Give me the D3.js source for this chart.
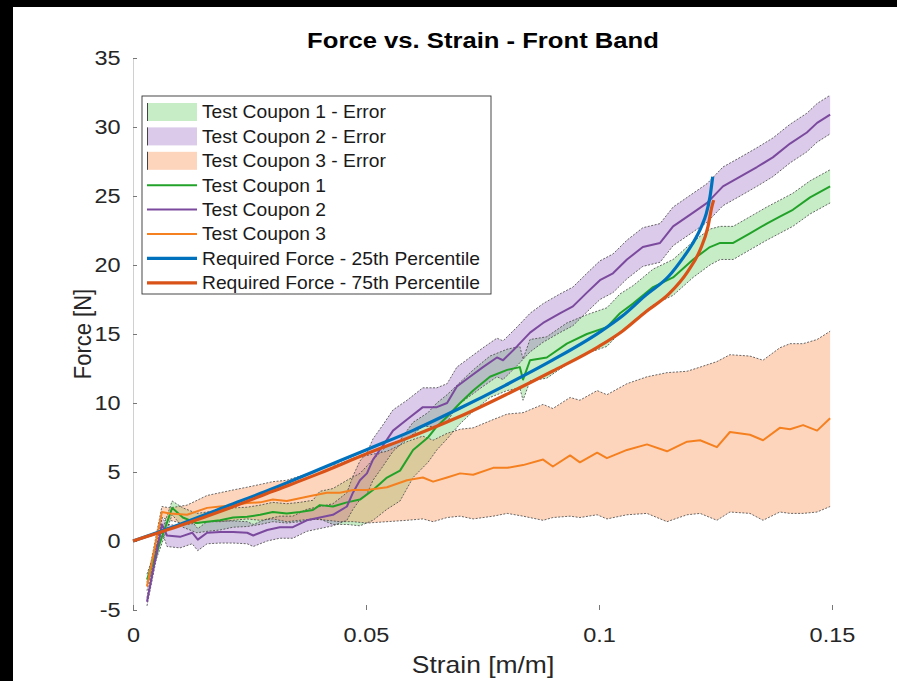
<!DOCTYPE html>
<html>
<head>
<meta charset="utf-8">
<script src="https://cdn.jsdelivr.net/npm/d3@7"></script>
<style>
  body { margin: 0; background: #fff; }
  svg { display: block; font-family: "Liberation Sans", Arial, Helvetica, sans-serif; }
</style>
</head>
<body>
<svg id="chart"></svg>
<script>
const width = 897;
const height = 681;

// test coupon 1 (green)
const strainC1 = [0.003, 0.0084, 0.0107, 0.0137, 0.0159, 0.0187, 0.0215, 0.0245, 0.0273, 0.030, 0.033, 0.0358, 0.0386, 0.0401, 0.0429, 0.0459, 0.0487, 0.0515, 0.0545, 0.0573, 0.0601, 0.0633, 0.0652, 0.0674, 0.0702, 0.073, 0.0766, 0.0803, 0.083, 0.0837, 0.0852, 0.0888, 0.0931, 0.0974, 0.1017, 0.1045, 0.1073, 0.1116, 0.1159, 0.1202, 0.1238, 0.126, 0.1288, 0.1324, 0.136, 0.1388, 0.1416, 0.1453, 0.1496];
const forceC1 = [-2.8, 2.4, 1.7, 1.3, 1.4, 1.5, 1.7, 1.75, 1.9, 2.1, 2.0, 2.1, 2.25, 2.6, 2.5, 2.8, 3.0, 3.7, 4.6, 5.1, 6.6, 7.5, 8.3, 9.0, 10.0, 10.9, 11.9, 12.4, 12.6, 11.7, 13.1, 13.3, 14.3, 15.0, 15.5, 16.5, 17.2, 18.4, 19.1, 20.4, 21.3, 21.6, 21.6, 22.3, 23.0, 23.5, 24.0, 24.9, 25.7];
const errC1 = [0.4, 0.5, 0.7, 0.7, 0.7, 0.7, 0.7, 0.7, 0.7, 0.7, 0.7, 0.7, 0.7, 1.0, 1.3, 1.6, 1.9, 2.2, 2.3, 2.2, 2.0, 1.8, 1.7, 1.6, 1.5, 1.5, 1.5, 1.5, 1.5, 1.5, 1.5, 1.5, 1.5, 1.4, 1.4, 1.4, 1.3, 1.3, 1.3, 1.3, 1.3, 1.2, 1.2, 1.2, 1.2, 1.2, 1.2, 1.2, 1.2];

// test coupon 2 (purple)
const strainC2 = [0.003, 0.0062, 0.0073, 0.0101, 0.0127, 0.0139, 0.0159, 0.0187, 0.0215, 0.0245, 0.0258, 0.0288, 0.0315, 0.0343, 0.0373, 0.0401, 0.0429, 0.0459, 0.0472, 0.0487, 0.0502, 0.0515, 0.0536, 0.0558, 0.0588, 0.0622, 0.0652, 0.0674, 0.0695, 0.0723, 0.0751, 0.0781, 0.0794, 0.0824, 0.0852, 0.088, 0.0916, 0.0944, 0.0974, 0.1002, 0.103, 0.106, 0.1094, 0.1131, 0.1159, 0.1202, 0.1232, 0.1266, 0.1303, 0.1339, 0.1373, 0.141, 0.1446, 0.1468, 0.1496];
const forceC2 = [-4.4, 1.2, 0.4, 0.3, 0.6, 0.1, 0.6, 0.65, 0.65, 0.6, 0.4, 0.8, 1.0, 1.0, 1.5, 1.7, 1.9, 2.5, 3.5, 4.4, 4.9, 5.9, 6.9, 8.0, 8.8, 9.7, 9.7, 10.0, 11.2, 11.9, 12.6, 13.3, 13.1, 14.1, 15.1, 15.8, 16.5, 17.0, 18.0, 18.9, 19.4, 20.4, 21.3, 21.6, 22.8, 23.8, 24.5, 25.7, 26.4, 27.1, 27.8, 28.8, 29.6, 30.3, 30.9];
const errC2 = [0.3, 0.5, 0.8, 0.8, 0.8, 0.8, 0.8, 0.8, 0.8, 0.8, 0.8, 0.8, 0.8, 0.8, 0.8, 0.8, 0.8, 1.0, 1.2, 1.4, 1.5, 1.5, 1.5, 1.5, 1.4, 1.4, 1.4, 1.4, 1.4, 1.4, 1.4, 1.4, 1.4, 1.4, 1.4, 1.4, 1.4, 1.4, 1.4, 1.4, 1.4, 1.4, 1.4, 1.4, 1.4, 1.4, 1.4, 1.4, 1.4, 1.4, 1.4, 1.4, 1.4, 1.4, 1.4];

// test coupon 3 (orange) with its own lower / upper error edges
const strainC3 = [0.003, 0.0062, 0.0079, 0.0116, 0.0159, 0.0187, 0.0215, 0.0245, 0.0273, 0.030, 0.033, 0.0358, 0.0386, 0.0416, 0.0444, 0.0472, 0.0502, 0.0545, 0.0588, 0.0622, 0.0644, 0.0674, 0.0702, 0.073, 0.0773, 0.0803, 0.0837, 0.088, 0.0901, 0.0938, 0.0959, 0.0996, 0.1017, 0.106, 0.1103, 0.1146, 0.1189, 0.1217, 0.1253, 0.1281, 0.1324, 0.1352, 0.1388, 0.141, 0.1438, 0.1468, 0.1496];
const forceC3 = [-3.3, 2.1, 2.0, 1.9, 2.4, 2.5, 2.6, 2.75, 2.8, 3.0, 2.9, 3.1, 3.3, 3.5, 3.5, 3.7, 3.7, 3.9, 4.4, 4.6, 4.3, 4.6, 4.9, 4.8, 5.3, 5.3, 5.5, 5.9, 5.4, 6.2, 5.7, 6.4, 6.0, 6.6, 7.0, 6.5, 7.2, 7.3, 6.8, 7.9, 7.7, 7.3, 8.2, 8.1, 8.4, 8.0, 8.9];
const lowerC3 = [-3.6, 1.7, 1.5, 1.2, 1.4, 1.4, 1.5, 1.6, 1.5, 1.6, 1.4, 1.5, 1.6, 1.5, 1.4, 1.4, 1.3, 1.4, 1.5, 1.6, 1.4, 1.7, 1.8, 1.6, 1.8, 2.0, 1.8, 1.5, 1.7, 1.8, 1.7, 1.9, 1.6, 1.9, 2.0, 1.4, 1.9, 2.0, 1.5, 2.1, 2.0, 1.5, 2.1, 2.0, 2.0, 2.1, 2.5];
const upperC3 = [-3.0, 2.5, 2.4, 2.6, 3.3, 3.5, 3.7, 3.9, 4.1, 4.3, 4.4, 4.7, 5.0, 5.4, 5.6, 6.0, 6.2, 6.5, 7.2, 7.6, 7.3, 7.8, 8.1, 8.2, 8.8, 9.2, 9.3, 9.9, 9.6, 10.4, 10.2, 10.9, 10.6, 11.4, 11.9, 12.2, 12.3, 12.6, 13.0, 13.5, 13.4, 13.1, 14.0, 14.3, 14.3, 14.6, 15.2];

// required force curves
const strainReq25 = [0, 0.01, 0.02, 0.03, 0.04, 0.05, 0.06, 0.07, 0.08, 0.09, 0.1, 0.105, 0.11, 0.115, 0.118, 0.12, 0.122, 0.123, 0.1238, 0.1244];
const forceReq25 = [0, 1.2, 2.5, 3.8, 5.2, 6.6, 8.0, 9.6, 11.3, 13.1, 15.1, 16.3, 17.8, 19.2, 20.5, 21.5, 22.8, 23.7, 24.9, 26.4];
const strainReq75 = [0, 0.01, 0.02, 0.03, 0.04, 0.05, 0.06, 0.07, 0.08, 0.09, 0.1, 0.105, 0.11, 0.115, 0.119, 0.1217, 0.1234, 0.1242, 0.1246];
const forceReq75 = [0, 1.1, 2.3, 3.6, 4.9, 6.3, 7.6, 9.0, 10.6, 12.3, 14.1, 15.2, 16.6, 17.9, 19.5, 21.1, 22.8, 24.2, 24.7];

const xTicks = [0, 0.05, 0.1, 0.15];
const xTickLabels = ["0", "0.05", "0.1", "0.15"];
const yTicks = [-5, 0, 5, 10, 15, 20, 25, 30, 35];
const yTickLabels = ["-5", "0", "5", "10", "15", "20", "25", "30", "35"];

const legendNames = ["Test Coupon 1 - Error", "Test Coupon 2 - Error", "Test Coupon 3 - Error",
  "Test Coupon 1", "Test Coupon 2", "Test Coupon 3",
  "Required Force - 25th Percentile", "Required Force - 75th Percentile"];

const fillColors = ["rgba(80,200,80,0.32)", "rgba(150,100,190,0.34)", "rgba(250,150,90,0.40)"];
const lineColors = ["#22a229", "#7b4a9e", "#f58020"];
const reqColors = ["#0072bd", "#d95319"];

const svg = d3.select("#chart")
    .attr("width", width)
    .attr("height", height);

svg.append("rect").attr("width", width).attr("height", height).attr("fill", "#fff");
// black strips at the edges of the screenshot
svg.append("rect").attr("x", 0).attr("y", 0).attr("width", 13).attr("height", height).attr("fill", "#000");
svg.append("rect").attr("x", 0).attr("y", 0).attr("width", width).attr("height", 7).attr("fill", "#000");

const x = d3.scaleLinear().domain([0, 0.15]).range([133, 832]);
const y = d3.scaleLinear().domain([-5, 35]).range([610, 58]);

// build series
const zipBand = (xs, lo, hi) => xs.map((s, i) => ({s: s, lo: lo[i], hi: hi[i]}));
const zipLine = (xs, ys) => xs.map((s, i) => ({s: s, v: ys[i]}));

const bands = [
  zipBand(strainC1, forceC1.map((v, i) => v - errC1[i]), forceC1.map((v, i) => v + errC1[i])),
  zipBand(strainC2, forceC2.map((v, i) => v - errC2[i]), forceC2.map((v, i) => v + errC2[i])),
  zipBand(strainC3, lowerC3, upperC3)
];
const coupons = [zipLine(strainC1, forceC1), zipLine(strainC2, forceC2), zipLine(strainC3, forceC3)];
const required = [zipLine(strainReq25, forceReq25), zipLine(strainReq75, forceReq75)];

const area = d3.area().x(d => x(d.s)).y0(d => y(d.lo)).y1(d => y(d.hi));
const line = d3.line().x(d => x(d.s)).y(d => y(d.v));

// axes
const yAxis = svg.append("g")
    .attr("transform", "translate(133,0)")
    .call(d3.axisLeft(y).tickValues(yTicks).tickFormat((d, i) => yTickLabels[i])
      .tickSize(-4).tickPadding(11).tickSizeOuter(0));
yAxis.select(".domain").attr("stroke", "#d0d0d0");
yAxis.selectAll(".tick line").attr("stroke", "#777");
yAxis.selectAll(".tick text")
    .attr("font-size", 21).attr("fill", "#262626")
    .attr("font-family", "Liberation Sans, Arial, sans-serif")
    .attr("transform", "scale(1.12,1)");

const xAxis = svg.append("g")
    .attr("transform", "translate(0,610)")
    .call(d3.axisBottom(x).tickValues(xTicks).tickFormat((d, i) => xTickLabels[i])
      .tickSize(-5).tickPadding(17).tickSizeOuter(0));
xAxis.select(".domain").remove();
xAxis.selectAll(".tick line").attr("stroke", "#777");
xAxis.selectAll(".tick text")
    .attr("font-size", 21).attr("fill", "#262626")
    .attr("font-family", "Liberation Sans, Arial, sans-serif")
    .attr("transform", "scale(1.12,1)");

// error bands
const bandG = svg.append("g");
bands.forEach((b, i) => {
  bandG.append("path").datum(b).attr("d", area).attr("fill", fillColors[i]);
});
bands.forEach(b => {
  ["lo", "hi"].forEach(k => {
    bandG.append("path").datum(b)
      .attr("d", d3.line().x(d => x(d.s)).y(d => y(d[k])))
      .attr("fill", "none").attr("stroke", "#444").attr("stroke-width", 0.8)
      .attr("stroke-dasharray", "2,1.5");
  });
});

// coupon mean lines
coupons.forEach((c, i) => {
  svg.append("path").datum(c).attr("d", line)
    .attr("fill", "none").attr("stroke", lineColors[i]).attr("stroke-width", 2)
    .attr("stroke-linejoin", "round");
});

// required force curves
required.forEach((c, i) => {
  svg.append("path").datum(c).attr("d", d3.line().curve(d3.curveMonotoneX).x(d => x(d.s)).y(d => y(d.v)))
    .attr("fill", "none").attr("stroke", reqColors[i]).attr("stroke-width", 3.2);
});

// title and axis labels
svg.append("text")
    .attr("transform", "translate(483,48) scale(1.14,1)")
    .attr("text-anchor", "middle").attr("font-size", 22.5).attr("font-weight", "bold").attr("fill", "#000")
    .text("Force vs. Strain - Front Band");
svg.append("text")
    .attr("transform", "translate(483,673) scale(1.15,1)")
    .attr("text-anchor", "middle").attr("font-size", 23).attr("fill", "#262626")
    .text("Strain [m/m]");
svg.append("text")
    .attr("transform", "translate(91,334) scale(1.12,1) rotate(-90)")
    .attr("text-anchor", "middle").attr("font-size", 22).attr("fill", "#262626")
    .text("Force [N]");

// legend
const leg = svg.append("g");
leg.append("rect").attr("x", 142).attr("y", 96).attr("width", 349).attr("height", 198)
    .attr("fill", "#fff").attr("stroke", "#333").attr("stroke-width", 0.9);
legendNames.forEach((name, i) => {
  const cy = 112 + i * 24.4;
  if (i < 3) {
    leg.append("rect").attr("x", 147).attr("y", cy - 9).attr("width", 50).attr("height", 18)
      .attr("fill", fillColors[i]);
    leg.append("line").attr("x1", 147.5).attr("x2", 147.5).attr("y1", cy - 9).attr("y2", cy + 9)
      .attr("stroke", "#444").attr("stroke-width", 1);
  } else {
    const col = i < 6 ? lineColors[i - 3] : reqColors[i - 6];
    leg.append("line").attr("x1", 147).attr("x2", 197).attr("y1", cy).attr("y2", cy)
      .attr("stroke", col).attr("stroke-width", i < 6 ? 2 : 3.2);
  }
  leg.append("text")
    .attr("transform", `translate(202,${cy}) scale(1.1,1)`)
    .attr("dy", "0.36em").attr("font-size", 17.5).attr("fill", "#1a1a1a")
    .text(name);
});
</script>
</body>
</html>
